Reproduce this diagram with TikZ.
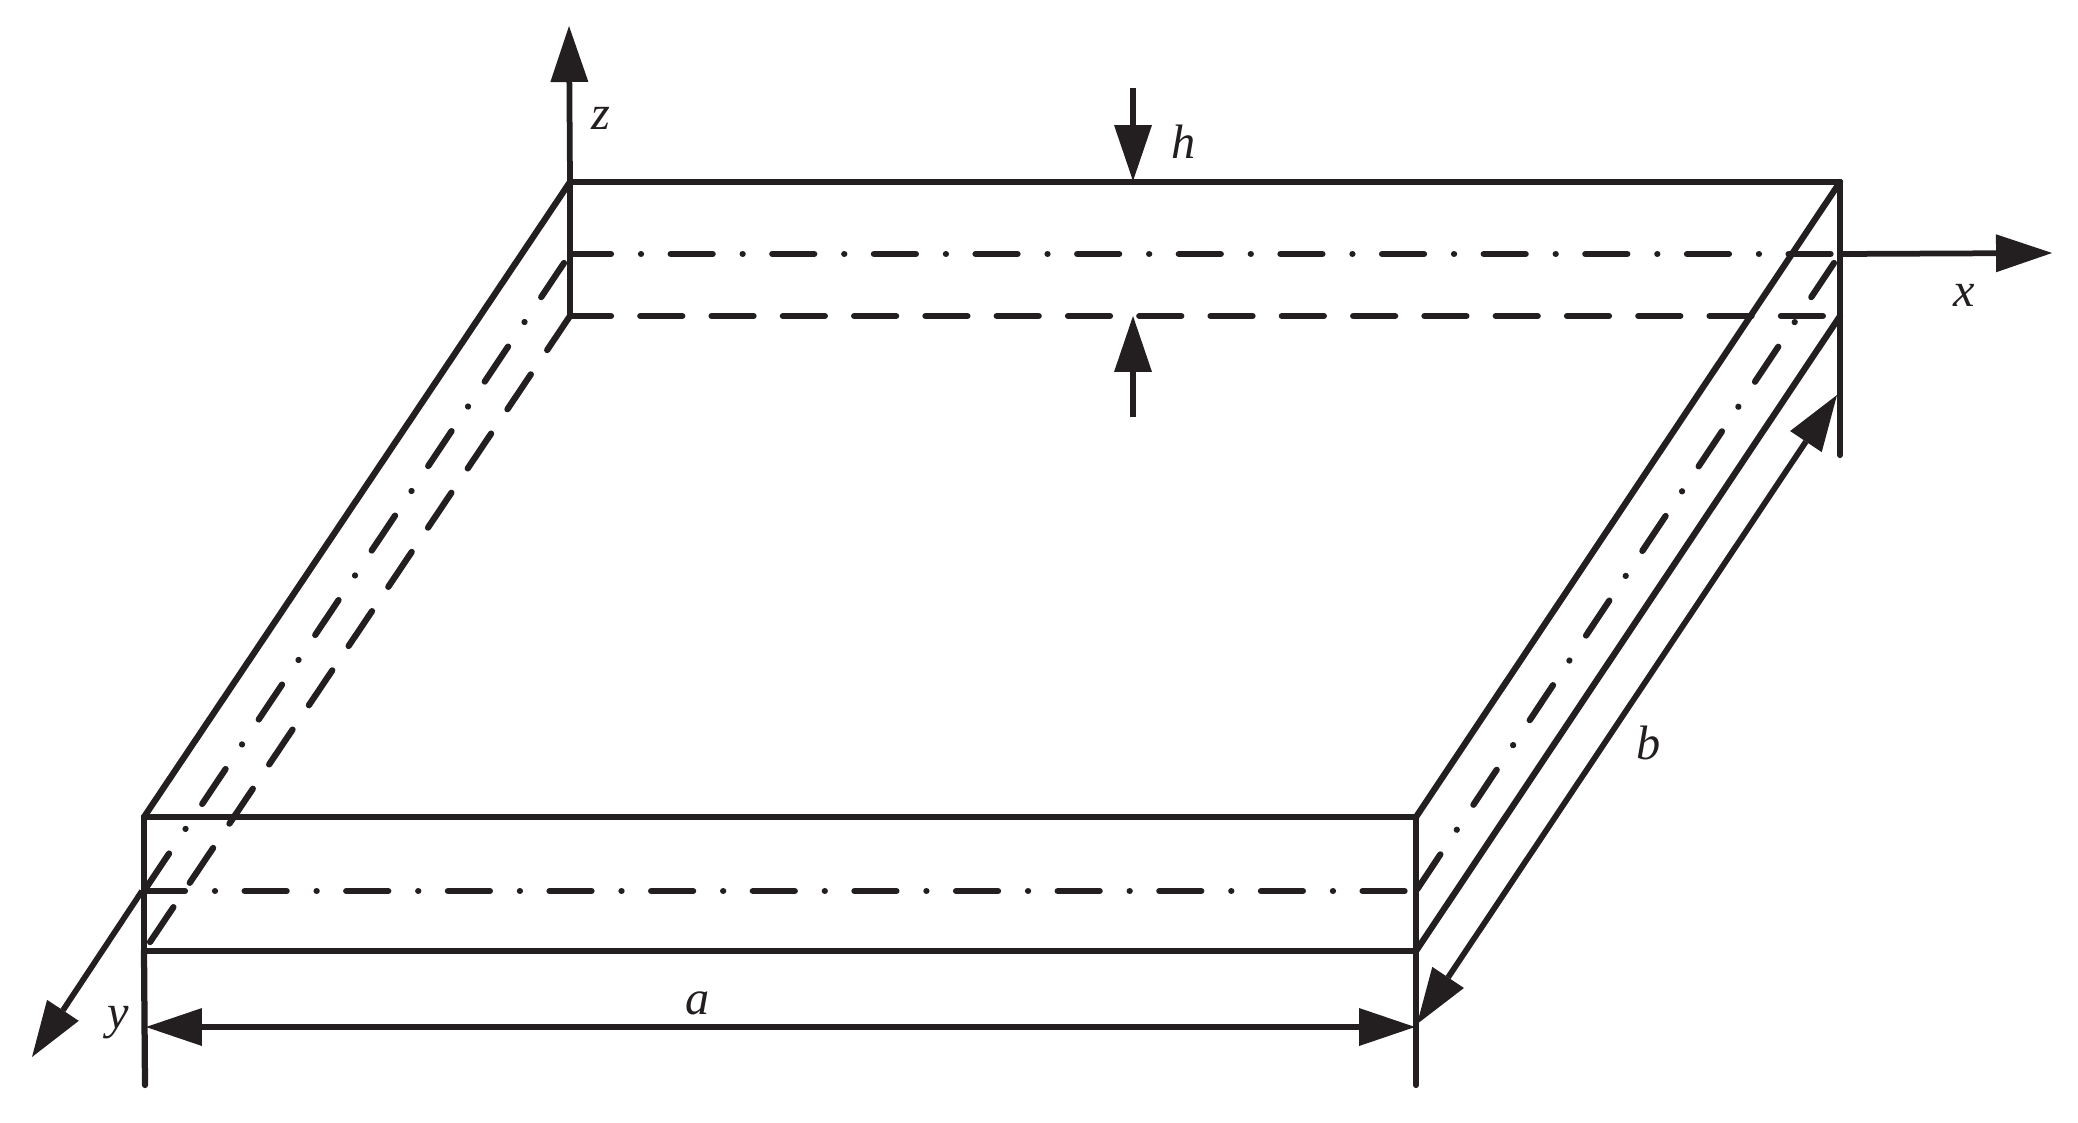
\documentclass[tikz,border=0pt]{standalone}
\usepackage{fontspec}
\setmainfont{Liberation Serif}
\usetikzlibrary{arrows.meta}
\definecolor{ink}{HTML}{231F20}
\tikzset{
  solidline/.style={draw=ink,line width=0.125cm,line cap=round,line join=miter},
  dimline/.style={draw=ink,line width=0.115cm},
  dashdotline/.style={draw=ink,line width=0.125cm,line cap=round,dash pattern=on 0.84cm off 0.6cm on 0.001cm off 0.592cm,dash phase=0.02cm},
  dashline/.style={draw=ink,line width=0.125cm,line cap=round,dash pattern=on 0.84cm off 0.586cm,dash phase=0.02cm},
  bigtip/.tip={Triangle[length=1.12cm,width=0.76cm,line width=0pt,fill=ink]},
  lbl/.style={text=ink,inner sep=0pt,font=\fontsize{27.5}{30}\selectfont\itshape},
}
\begin{document}
\begin{tikzpicture}[x=0.02cm,y=-0.02cm]
\useasboundingbox (0,0) rectangle (2078,1122);
% corners
\coordinate (btl) at (570,182);
\coordinate (btm) at (570,254);
\coordinate (btb) at (570,316);
\coordinate (rtl) at (1840,182);
\coordinate (rtm) at (1840,254);
\coordinate (rtb) at (1840,316);
\coordinate (flt) at (144,817);
\coordinate (flm) at (144,891);
\coordinate (flb) at (144,951);
\coordinate (frt) at (1416,817);
\coordinate (frm) at (1416,891);
\coordinate (frb) at (1416,951);
\coordinate (ldm) at (564,263);
\coordinate (rdm) at (1834,263);
\coordinate (zt) at (569,26);
\coordinate (xt) at (2052,253);
\coordinate (yt) at (32,1057);
\coordinate (yo) at (142,891);
\coordinate (rvb) at (1840,455);
\coordinate (lvb) at (145,1085);
\coordinate (mvb) at (1416,1085);
\coordinate (al) at (146,1027);
\coordinate (ar) at (1415,1027);
\coordinate (bl) at (1417,1024);
\coordinate (br) at (1837,395);
\coordinate (h1s) at (1133,88);
\coordinate (h1e) at (1133,181);
\coordinate (h2s) at (1133,417);
\coordinate (h2e) at (1133,316);
\coordinate (tme) at (1833,254);
\coordinate (fme) at (1406,891);
\coordinate (tbe) at (1833,316);
% solid edges
\draw[solidline] (flb) -- (lvb);
\draw[solidline] (flt) -- (flb);
\draw[solidline] (frt) -- (mvb);
\draw[solidline] (rtl) -- (rvb);
\draw[solidline] (btb) -- (btl);
\draw[solidline] (btl) -- (rtl);
\draw[solidline] (flt) -- (frt);
\draw[solidline] (flb) -- (frb);
\draw[solidline] (btl) -- (flt);
\draw[solidline] (rtl) -- (frt);
\draw[solidline] (rtb) -- (frb);
% mid plane and hidden edges
\draw[dashdotline] (btm) -- (tme);
\draw[dashdotline] (flm) -- (fme);
\draw[dashdotline] (ldm) -- (flm);
\draw[dashdotline] (rdm) -- (frm);
\draw[dashline] (btb) -- (tbe);
\draw[dashline] (btb) -- (flb);
% axes
\draw[dimline,-{bigtip}] (btl) -- (zt);
\draw[dimline,-{bigtip}] (rtm) -- (xt);
\draw[dimline,-{bigtip}] (yo) -- (yt);
% dimensions
\draw[dimline,{bigtip}-{bigtip}] (al) -- (ar);
\draw[dimline,{bigtip}-{bigtip}] (bl) -- (br);
\draw[dimline,-{bigtip}] (h1s) -- (h1e);
\draw[dimline,-{bigtip}] (h2s) -- (h2e);
% labels
\node[lbl] (lz) at (601,118) {z};
\node[lbl] (lx) at (1964,295) {x};
\node[lbl] (ly) at (118,1023) {y};
\node[lbl] (lh) at (1184,142) {h};
\node[lbl] (la) at (698,1003) {a};
\node[lbl] (lb) at (1649,743) {b};
\end{tikzpicture}
\end{document}
